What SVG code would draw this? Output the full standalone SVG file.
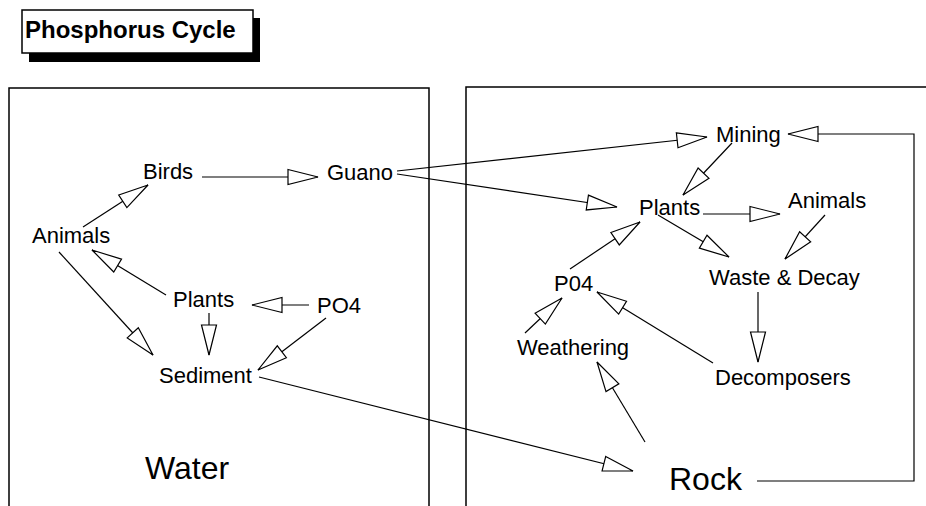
<svg xmlns="http://www.w3.org/2000/svg" width="926" height="506" viewBox="0 0 926 506">
<style>
text{font-family:"Liberation Sans",Arial,sans-serif;font-size:22px;fill:#000}
.big{font-size:32px}
.title{font-size:24px;font-weight:bold}
.frame{fill:none;stroke:#000;stroke-width:1.5}
#connectors line,#connectors polyline{stroke:#000;stroke-width:1.2;fill:none;marker-end:url(#ah)}
</style>
<defs>
<marker id="ah" markerUnits="userSpaceOnUse" viewBox="0 0 32 18" refX="31" refY="9" markerWidth="32" markerHeight="18" orient="auto" overflow="visible">
<path d="M1,1.5 L31,9 L1,16.5 Z" fill="#fff" stroke="#000" stroke-width="1.2"/>
</marker>
</defs>
<rect width="926" height="506" fill="#fff"/>
<g id="title">
<rect x="29" y="18" width="231" height="44" fill="#000"/>
<rect x="22" y="10" width="231" height="43" fill="#fff" stroke="#000" stroke-width="1.5"/>
<text class="title" x="25" y="38">Phosphorus Cycle</text>
</g>
<g id="water-box">
<path class="frame" d="M9,506 V88 H429 V506"/>
<text class="big" x="145" y="479">Water</text>
</g>
<g id="rock-box">
<path class="frame" d="M466,506 V87 H926"/>
</g>
<g id="birds"><text x="143" y="179">Birds</text></g>
<g id="guano"><text x="327" y="180">Guano</text></g>
<g id="animals-w"><text x="32" y="243">Animals</text></g>
<g id="plants-w"><text x="173" y="307">Plants</text></g>
<g id="po4-w"><text x="317" y="313">PO4</text></g>
<g id="sediment"><text x="159" y="383">Sediment</text></g>
<g id="mining"><text x="716" y="142">Mining</text></g>
<g id="plants-r"><text x="639" y="215">Plants</text></g>
<g id="animals-r"><text x="788" y="208">Animals</text></g>
<g id="p04-r"><text x="554" y="291">P04</text></g>
<g id="waste"><text x="709" y="285">Waste &amp; Decay</text></g>
<g id="weathering"><text x="517" y="355">Weathering</text></g>
<g id="decomposers"><text x="715" y="385">Decomposers</text></g>
<g id="rock"><text class="big" x="669" y="490">Rock</text></g>
<g id="connectors">
<line x1="202" y1="177" x2="318" y2="177"/>
<line x1="83" y1="227" x2="148" y2="185"/>
<line x1="166" y1="295" x2="92" y2="250"/>
<line x1="59" y1="252" x2="153" y2="355"/>
<line x1="209" y1="313" x2="209" y2="355"/>
<line x1="309" y1="305" x2="252" y2="305"/>
<line x1="326" y1="318" x2="258" y2="370"/>
<line x1="259" y1="377" x2="633" y2="471"/>
<line x1="397" y1="171" x2="707" y2="137"/>
<line x1="397" y1="174" x2="617" y2="207"/>
<line x1="732" y1="143" x2="683" y2="195"/>
<polyline points="757,481 914,481 914,134 788,134"/>
<line x1="703" y1="214" x2="780" y2="214"/>
<line x1="658" y1="215" x2="729" y2="257"/>
<line x1="825" y1="215" x2="785" y2="259"/>
<line x1="570" y1="269" x2="640" y2="222"/>
<line x1="758" y1="292" x2="758" y2="362"/>
<line x1="713" y1="363" x2="597" y2="292"/>
<line x1="525" y1="333" x2="562" y2="298"/>
<line x1="645" y1="442" x2="597" y2="362"/>
</g>
</svg>
